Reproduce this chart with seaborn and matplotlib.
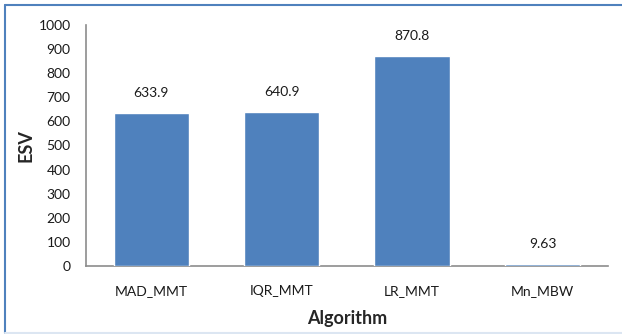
import matplotlib
matplotlib.use("Agg")
import matplotlib.pyplot as plt
import seaborn as sns
import pandas as pd
from matplotlib.lines import Line2D

algorithms = ["MAD_MMT", "IQR_MMT", "LR_MMT", "Mn_MBW"]
esv_values = [633.9, 640.9, 870.8, 9.63]
value_labels = ["633.9", "640.9", "870.8", "9.63"]
y_ticks = [0, 100, 200, 300, 400, 500, 600, 700, 800, 900, 1000]

sns.set_theme(style="white")
plt.rcParams["font.family"] = ["Lato", "DejaVu Sans"]

df = pd.DataFrame({"Algorithm": algorithms, "ESV": esv_values})

fig = plt.figure(figsize=(6.22, 3.34), dpi=100)
ax = fig.add_axes([0.138, 0.204, 0.839, 0.721])

sns.barplot(data=df, x="Algorithm", y="ESV", color="#4F81BD", saturation=1,
            width=0.575, ax=ax)
for patch in ax.patches:
    patch.set_zorder(3)

for patch, label in zip(ax.patches, value_labels):
    ax.annotate(label, (patch.get_x() + patch.get_width() / 2, patch.get_height()),
                xytext=(0, 10), textcoords="offset points",
                ha="center", va="bottom", fontsize=10, color="#1a1a1a")

ax.set_ylim(0, 1000)
ax.set_yticks(y_ticks)
ax.set_xlim(-0.5, 3.5)
ax.tick_params(axis="both", length=0, labelsize=10, colors="#1a1a1a")
ax.tick_params(axis="y", pad=11)
ax.tick_params(axis="x", pad=14)
for side in ("top", "right"):
    ax.spines[side].set_visible(False)
for side in ("left", "bottom"):
    ax.spines[side].set_color("#8c8c8c")
    ax.spines[side].set_linewidth(1.2)

ax.set_xlabel("Algorithm", fontsize=13, fontweight="bold", labelpad=9)
ax.set_ylabel("ESV", fontsize=13, fontweight="bold", labelpad=3)

# outer chart frame
fig.add_artist(Line2D([5 / 622, 1], [1 - 5 / 334, 1 - 5 / 334],
                      transform=fig.transFigure, color="#4F81BD", linewidth=1.5))
fig.add_artist(Line2D([5 / 622, 5 / 622], [1 / 334, 1 - 5 / 334],
                      transform=fig.transFigure, color="#4F81BD", linewidth=1.5))
fig.add_artist(Line2D([5 / 622, 1], [1.2 / 334, 1.2 / 334],
                      transform=fig.transFigure, color="#dce6f2", linewidth=1.5))

fig.savefig("out.png", dpi=100)
